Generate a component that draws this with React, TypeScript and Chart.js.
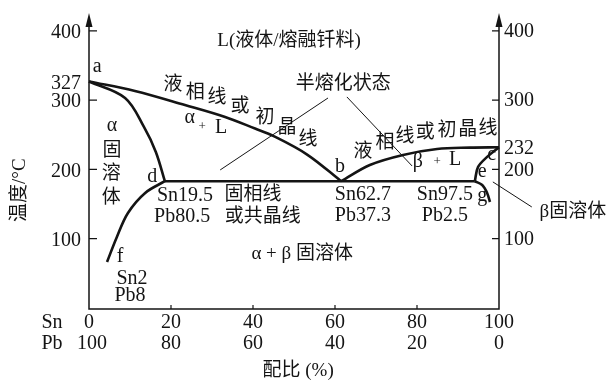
import React, { useEffect, useRef } from "react";
import { Chart, registerables } from "chart.js";

Chart.register(...registerables);

// ---- data (Sn %, temperature °C) ----
const snTicks = [0, 20, 40, 60, 80, 100];
const pbTicks = [100, 80, 60, 40, 20, 0];
const leftTickMarks = [100, 200, 300, 400];
const leftTickLabels = [100, 200, 300, 327, 400];
const rightTickMarks = [100, 200, 300, 400];
const rightTickLabels = [100, 200, 232, 300, 400];

const liquidusLeftX = [0, 11.2, 23.4, 33.2, 40.5, 44.9, 53.2, 61.5];
const liquidusLeftY = [327, 313.4, 293.1, 275.8, 259, 248.5, 221.5, 183];
const liquidusRightX = [61.5, 68.5, 76.6, 84.9, 92.9, 100];
const liquidusRightY = [183, 206.5, 221, 229.6, 231.5, 232];
const solidusLeftX = [0, 8.8, 13.4, 16.3, 18.5];
const solidusLeftY = [327, 303.2, 261.4, 225.3, 183];
const solvusLeftX = [18.5, 13.7, 9.5, 6.8, 4.4];
const solvusLeftY = [183, 166.1, 137.2, 102.5, 66.4];
const solidusRightX = [100, 97.1, 94.9, 94.1];
const solidusRightY = [232, 218.1, 203.6, 183];
const solvusRightX = [94.1, 95.9, 97.1, 97.8];
const solvusRightY = [183, 177.6, 166.1, 153];
const eutecticX = [18.5, 94.1];
const eutecticY = [183, 183];

// leader lines [x1, y1, x2, y2] in data units
const leaders = [
  [32, 199.3, 58.3, 303.2],
  [62.9, 304.7, 78.8, 205],
  [98.5, 182, 108, 145.8],
];

// text notes [text, x, y, size]
const notes: [string, number, number, number?][] = [
  ["L(液体/熔融钎料)", 48.8, 385.6],
  ["a", 2.0, 348, 20],
  ["液", 20.5, 322], ["相", 25.9, 310.5], ["线", 31.2, 303.2], ["或", 36.8, 290.3],
  ["初", 42.9, 274.4], ["晶", 48.3, 260], ["线", 53.4, 242.6],
  ["α", 24.6, 274, 20], ["+", 27.6, 261.4, 13], ["L", 32.2, 260, 20],
  ["α", 5.6, 262.5, 20], ["固", 5.6, 226.7], ["溶", 5.4, 193.5], ["体", 5.4, 158.8],
  ["d", 15.4, 189, 20],
  ["Sn19.5", 23.4, 161.7, 20], ["Pb80.5", 22.7, 131.4, 20],
  ["固相线", 40, 163.2], ["或共晶线", 42.4, 131.4],
  ["f", 7.6, 74.5, 20], ["Sn2", 10.5, 41.9, 20], ["Pb8", 10, 17.3, 20],
  ["α + β 固溶体", 52, 78],
  ["半熔化状态", 62, 323.5],
  ["b", 61.2, 204.5, 20],
  ["液", 66.8, 225.3], ["相", 72.2, 238.3], ["线", 77.1, 246.9], ["或", 82, 252.7],
  ["初", 87.3, 255.6], ["晶", 92.4, 257], ["线", 97.3, 258.5],
  ["β", 80.2, 210.8, 20], ["+", 84.9, 210.8, 13], ["L", 89.3, 213.7, 20],
  ["c", 98.2, 221, 20], ["e", 95.9, 196, 20], ["g", 95.9, 161.5, 20],
  ["Sn62.7", 66.8, 163.2, 20], ["Pb37.3", 66.8, 132.9, 20],
  ["Sn97.5", 86.8, 163.2, 20], ["Pb2.5", 86.8, 132.9, 20],
  ["β固溶体", 118, 138.6],
];

const INK = "#141414";
const FONT = '"Liberation Serif", "Noto Sans CJK SC", serif';

const pts = (xs: number[], ys: number[]) => xs.map((x, i) => ({ x, y: ys[i] }));

const overlay = {
  id: "overlay",
  afterDatasetsDraw(chart: any) {
    const { ctx, chartArea, scales } = chart;
    const X = (v: number) => scales.x.getPixelForValue(v);
    const Y = (v: number) => scales.y.getPixelForValue(v);
    const top = chartArea.top;
    const bottom = chartArea.bottom;
    ctx.save();
    ctx.strokeStyle = INK;
    ctx.fillStyle = INK;

    // axes
    ctx.lineWidth = 1.5;
    ctx.beginPath();
    [0, 100].forEach((v) => {
      ctx.moveTo(X(v), bottom);
      ctx.lineTo(X(v), top + 10);
    });
    ctx.moveTo(X(0) - 0.75, bottom);
    ctx.lineTo(X(100) + 0.75, bottom);
    ctx.stroke();
    [0, 100].forEach((v) => {
      ctx.beginPath();
      ctx.moveTo(X(v), top - 2);
      ctx.lineTo(X(v) - 3.5, top + 12);
      ctx.lineTo(X(v) + 3.5, top + 12);
      ctx.closePath();
      ctx.fill();
    });

    // tick marks (inward)
    ctx.lineWidth = 1.2;
    ctx.beginPath();
    leftTickMarks.forEach((t) => {
      ctx.moveTo(X(0), Y(t));
      ctx.lineTo(X(0) + 8, Y(t));
    });
    rightTickMarks.forEach((t) => {
      ctx.moveTo(X(100), Y(t));
      ctx.lineTo(X(100) - 7, Y(t));
    });
    snTicks.slice(1, -1).forEach((t) => {
      ctx.moveTo(X(t), bottom);
      ctx.lineTo(X(t), bottom - 4);
    });
    ctx.stroke();

    // leader lines
    ctx.lineWidth = 1;
    ctx.beginPath();
    leaders.forEach(([x1, y1, x2, y2]) => {
      ctx.moveTo(X(x1), Y(y1));
      ctx.lineTo(X(x2), Y(y2));
    });
    ctx.stroke();

    ctx.textBaseline = "middle";
    // tick labels
    ctx.font = "20px " + FONT;
    ctx.textAlign = "right";
    leftTickLabels.forEach((t) => ctx.fillText(String(t), X(0) - 8, Y(t) + 2));
    ctx.textAlign = "left";
    rightTickLabels.forEach((t) => ctx.fillText(String(t), X(100) + 5, Y(t) + 1));
    ctx.textAlign = "center";
    snTicks.forEach((t) => ctx.fillText(String(t), X(t), bottom + 14));
    pbTicks.forEach((t, i) => ctx.fillText(String(t), X(snTicks[i]) + (i === 0 ? 3 : 0), bottom + 35));
    ctx.fillText("Sn", X(0) - 37, bottom + 14);
    ctx.fillText("Pb", X(0) - 37, bottom + 35);
    ctx.font = "19px " + FONT;
    ctx.fillText("配比 (%)", X(51), bottom + 62);

    // y-axis title
    ctx.save();
    ctx.translate(20, Y(170));
    ctx.rotate(-Math.PI / 2);
    ctx.fillText("温度/°C", 0, 0);
    ctx.restore();

    // notes
    notes.forEach(([text, x, y, size]) => {
      ctx.font = (size || 19) + "px " + FONT;
      ctx.fillText(text, X(x), Y(y));
    });
    ctx.restore();
  },
};

export default function App() {
  const ref = useRef<HTMLCanvasElement>(null);
  useEffect(() => {
    document.body.style.margin = "0";
    const curve = (xs: number[], ys: number[], tension = 0.35) => ({
      data: pts(xs, ys),
      showLine: true,
      borderColor: INK,
      borderWidth: 2.6,
      pointRadius: 0,
      tension,
      fill: false,
      clip: false as any,
    });
    const chart = new Chart(ref.current as HTMLCanvasElement, {
      type: "scatter",
      data: {
        datasets: [
          curve(liquidusLeftX, liquidusLeftY),
          curve(liquidusRightX, liquidusRightY),
          curve(solidusLeftX, solidusLeftY),
          curve(solvusLeftX, solvusLeftY),
          curve(solidusRightX, solidusRightY),
          curve(solvusRightX, solvusRightY),
          curve(eutecticX, eutecticY, 0),
        ],
      },
      options: {
        responsive: false,
        animation: false,
        layout: { padding: { left: 89, right: 114, top: 15, bottom: 72 } },
        plugins: { legend: { display: false }, tooltip: { enabled: false } },
        scales: {
          x: { type: "linear", display: false, min: 0, max: 100 },
          y: { type: "linear", display: false, min: -1.5, max: 423 },
        },
      },
      plugins: [overlay],
    });
    return () => chart.destroy();
  }, []);
  return (
    <div style={{ width: 613, height: 381, background: "#fff" }}>
      <canvas ref={ref} width={613} height={381} style={{ display: "block" }} />
    </div>
  );
}
